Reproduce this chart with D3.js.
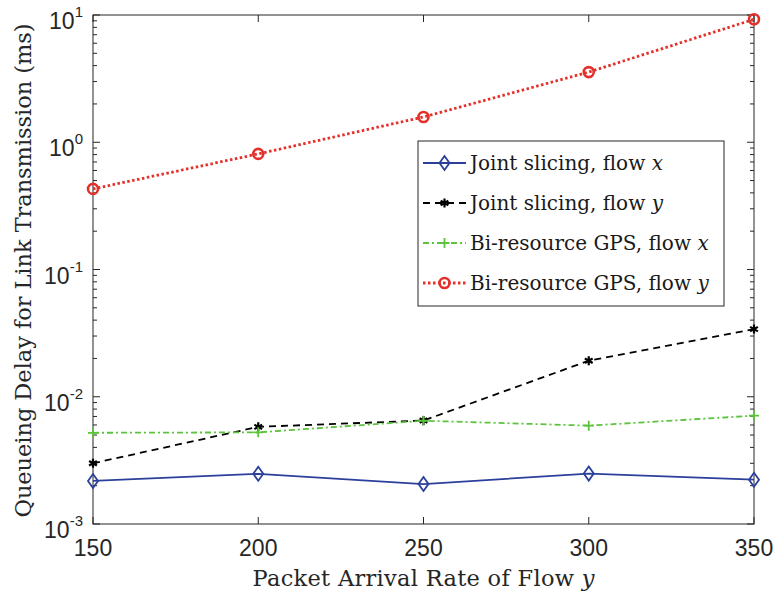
<!DOCTYPE html>
<html>
<head>
<meta charset="utf-8">
<script src="https://cdn.jsdelivr.net/npm/d3@7"></script>
<style>
  body { margin: 0; background: #fff; }
  text { fill: #262626; }
  .tick-label { font-family: "Liberation Sans", Arial, sans-serif; font-size: 23px; }
  .axis-title { font-family: "DejaVu Serif", "Liberation Serif", serif; font-size: 22.5px; }
  .legend-text { font-family: "DejaVu Serif", "Liberation Serif", serif; font-size: 20px; fill: #1a1a1a; }
</style>
</head>
<body>
<div id="chart"></div>
<script>
(function(){

// data
var rates = [150, 200, 250, 300, 350];
var jointX = [0.00218, 0.00248, 0.00206, 0.00249, 0.00223];
var jointY = [0.0030, 0.0058, 0.0065, 0.0192, 0.034];
var gpsX   = [0.00521, 0.00525, 0.00648, 0.00593, 0.0071];
var gpsY   = [0.43, 0.81, 1.58, 3.56, 9.25];
var xTicks = [150, 200, 250, 300, 350];
var yTicks = [1e-3, 1e-2, 1e-1, 1e0, 1e1];
var yExps  = ['-3', '-2', '-1', '0', '1'];

var series = [
	{name: 'Joint slicing, flow ', v: 'x', values: jointX, color: '#2b3f9b', dash: null, marker: 'diamond'},
	{name: 'Joint slicing, flow ', v: 'y', values: jointY, color: '#000000', dash: '7,5', marker: 'asterisk'},
	{name: 'Bi-resource GPS, flow ', v: 'x', values: gpsX, color: '#5cc43c', dash: '6,3,2,3', marker: 'plus'},
	{name: 'Bi-resource GPS, flow ', v: 'y', values: gpsY, color: '#e5302a', dash: '2.5,2.5', marker: 'circle'}
];

var width = 774, height = 594;
var margin = {left: 93, right: 20, top: 15, bottom: 70};

var svg = d3.select('#chart').append('svg')
	.attr('width', width)
	.attr('height', height);

var x = d3.scaleLinear().domain([150, 350]).range([margin.left, width - margin.right]);
var y = d3.scaleLog().domain([1e-3, 1e1]).range([height - margin.bottom, margin.top]);

var x0 = x.range()[0], x1 = x.range()[1];
var y0 = y.range()[0], y1 = y.range()[1];
var axisColor = '#262626';

var axes = svg.append('g');

// box
axes.append('rect')
	.attr('x', x0).attr('y', y1)
	.attr('width', x1 - x0).attr('height', y0 - y1)
	.attr('fill', 'none').attr('stroke', axisColor).attr('stroke-width', 1);

// x ticks (inward, bottom and top)
xTicks.forEach(function(t) {
	axes.append('line').attr('x1', x(t)).attr('x2', x(t)).attr('y1', y0).attr('y2', y0 - 7)
		.attr('stroke', axisColor);
	axes.append('line').attr('x1', x(t)).attr('x2', x(t)).attr('y1', y1).attr('y2', y1 + 7)
		.attr('stroke', axisColor);
	axes.append('text').attr('class', 'tick-label')
		.attr('x', x(t)).attr('y', y0 + 32)
		.attr('text-anchor', 'middle')
		.text(t);
});

// y ticks: major + minor, left and right
yTicks.forEach(function(t, i) {
	[[x0, 1], [x1, -1]].forEach(function(s) {
		axes.append('line').attr('x1', s[0]).attr('x2', s[0] + s[1] * 7)
			.attr('y1', y(t)).attr('y2', y(t)).attr('stroke', axisColor);
	});
	var lab = axes.append('text').attr('class', 'tick-label')
		.attr('x', x0 - 10).attr('y', y(t) + 14)
		.attr('text-anchor', 'end');
	lab.append('tspan').text('10');
	lab.append('tspan').attr('dy', -12).style('font-size', '15px').text(yExps[i]);
	if (i < yTicks.length - 1) {
		for (var m = 2; m <= 9; m++) {
			var v = t * m;
			[[x0, 1], [x1, -1]].forEach(function(s) {
				axes.append('line').attr('x1', s[0]).attr('x2', s[0] + s[1] * 4)
					.attr('y1', y(v)).attr('y2', y(v)).attr('stroke', axisColor);
			});
		}
	}
});

// axis titles
var xt = svg.append('text').attr('class', 'axis-title')
	.attr('x', (x0 + x1) / 2).attr('y', 586)
	.attr('text-anchor', 'middle')
	.attr('textLength', 342).attr('lengthAdjust', 'spacing');
xt.append('tspan').text('Packet Arrival Rate of Flow ');
xt.append('tspan').style('font-style', 'italic').text('y');

svg.append('text').attr('class', 'axis-title')
	.attr('transform', 'translate(31,' + ((y0 + y1) / 2 + 1) + ') rotate(-90)')
	.attr('text-anchor', 'middle')
	.attr('textLength', 494).attr('lengthAdjust', 'spacing')
	.text('Queueing Delay for Link Transmission (ms)');

function drawMarker(g, type, cx, cy, color) {
	if (type === 'diamond') {
		g.append('path')
			.attr('d', 'M' + cx + ',' + (cy - 7) + 'L' + (cx + 5) + ',' + cy + 'L' + cx + ',' + (cy + 7) + 'L' + (cx - 5) + ',' + cy + 'Z')
			.attr('fill', 'none').attr('stroke', color).attr('stroke-width', 1.8);
	} else if (type === 'circle') {
		g.append('circle').attr('cx', cx).attr('cy', cy).attr('r', 5)
			.attr('fill', 'none').attr('stroke', color).attr('stroke-width', 2.6);
	} else if (type === 'plus') {
		g.append('path')
			.attr('d', 'M' + (cx - 5) + ',' + cy + 'H' + (cx + 5) + 'M' + cx + ',' + (cy - 5) + 'V' + (cy + 5))
			.attr('stroke', color).attr('stroke-width', 1.8);
	} else if (type === 'asterisk') {
		var r = 4.5, p = '';
		for (var a = 0; a < 3; a++) {
			var ang = Math.PI / 2 + a * Math.PI / 3;
			p += 'M' + (cx - r * Math.cos(ang)) + ',' + (cy - r * Math.sin(ang)) +
				'L' + (cx + r * Math.cos(ang)) + ',' + (cy + r * Math.sin(ang));
		}
		g.append('path').attr('d', p).attr('stroke', color).attr('stroke-width', 2.2);
	}
}

var line = d3.line()
	.x(function(d, i) { return x(rates[i]); })
	.y(function(d) { return y(d); });

var plot = svg.append('g');
series.forEach(function(s) {
	plot.append('path')
		.attr('d', line(s.values))
		.attr('fill', 'none')
		.attr('stroke', s.color)
		.attr('stroke-width', s.marker === 'circle' ? 2.8 : 1.8)
		.attr('stroke-dasharray', s.dash);
	s.values.forEach(function(v, i) {
		drawMarker(plot, s.marker, x(rates[i]), y(v), s.color);
	});
});

// legend
var lg = svg.append('g');
lg.append('rect')
	.attr('x', 418).attr('y', 141).attr('width', 306).attr('height', 165)
	.attr('fill', '#fff').attr('stroke', axisColor).attr('stroke-width', 1);

series.forEach(function(s, i) {
	var ly = 163 + i * 40;
	lg.append('line')
		.attr('x1', 423).attr('x2', 466).attr('y1', ly).attr('y2', ly)
		.attr('stroke', s.color)
		.attr('stroke-width', s.marker === 'circle' ? 2.8 : 1.8)
		.attr('stroke-dasharray', s.dash);
	drawMarker(lg, s.marker, 444.5, ly, s.color);
	var t = lg.append('text').attr('class', 'legend-text')
		.attr('x', 470).attr('y', ly + 7);
	t.append('tspan').text(s.name);
	t.append('tspan').style('font-style', 'italic').text(s.v);
});

})();
</script>
</body>
</html>
